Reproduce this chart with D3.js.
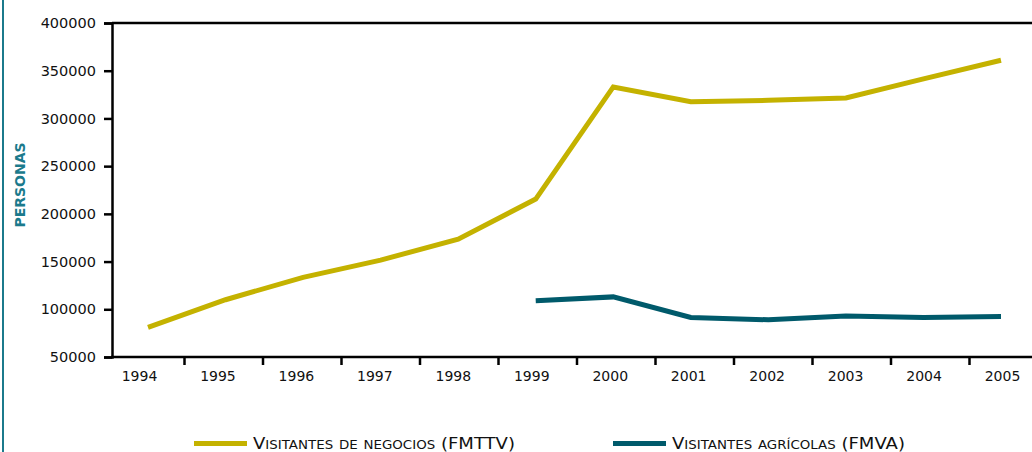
<!DOCTYPE html>
<html>
<head>
<meta charset="utf-8">
<script src="https://cdn.jsdelivr.net/npm/d3@7"></script>
<style>
  html, body { margin: 0; padding: 0; background: #fff; }
  svg { display: block; }
  text { font-family: "DejaVu Sans", sans-serif; }
</style>
</head>
<body>
<svg id="chart" width="1032" height="452"></svg>
<script>
// Visitantes por año
const years = ["1994", "1995", "1996", "1997", "1998", "1999",
               "2000", "2001", "2002", "2003", "2004", "2005"];
const negocios = [81000, 110000, 133500, 151500, 173500, 215500,
                  333000, 317500, 319000, 321500, 341500, 361000];
const agricolas = [null, null, null, null, null, 109000,
                   113000, 91500, 89000, 93000, 91500, 92500];
const yTicks = [50000, 100000, 150000, 200000, 250000, 300000, 350000, 400000];
const seriesNames = ["Visitantes de negocios (FMTTV)", "Visitantes agrícolas (FMVA)"];
const seriesColors = ["#c4b200", "#005a6b"];

const svg = d3.select("#chart");

// left rule
svg.append("line")
  .attr("x1", 3).attr("x2", 3).attr("y1", 0).attr("y2", 452)
  .attr("stroke", "#1b7a8c").attr("stroke-width", 2);

const y = d3.scaleLinear().domain([50000, 400000]).range([357, 23]);
const xLine = d3.scalePoint().domain(years).range([148, 1001]);
const xLabel = d3.scalePoint().domain(years).range([139, 1002]);
const xBand = d3.scaleBand().domain(years).range([106, 1048]);

// y axis
const yAxis = svg.append("g").attr("transform", "translate(112,0)")
  .call(d3.axisLeft(y).tickValues(yTicks).tickFormat(d3.format("d")).tickSize(8).tickPadding(8));
yAxis.select(".domain").attr("stroke", "#000").attr("stroke-width", 2.5);
yAxis.selectAll(".tick line").attr("stroke", "#000").attr("stroke-width", 2.5);
yAxis.selectAll(".tick text").attr("font-size", 14.5).attr("fill", "#111")
  .attr("font-family", "DejaVu Sans, sans-serif");

// top frame line
svg.append("line")
  .attr("x1", 112).attr("x2", 1032).attr("y1", y(400000)).attr("y2", y(400000))
  .attr("stroke", "#000").attr("stroke-width", 2.5);

// x axis baseline
svg.append("line")
  .attr("x1", 111).attr("x2", 1032).attr("y1", y(50000)).attr("y2", y(50000))
  .attr("stroke", "#000").attr("stroke-width", 2.5);

// tick marks between the years
svg.append("g").selectAll("line")
  .data(years.slice(1))
  .join("line")
  .attr("x1", d => xBand(d)).attr("x2", d => xBand(d))
  .attr("y1", y(50000)).attr("y2", y(50000) + 8)
  .attr("stroke", "#000").attr("stroke-width", 2.5);

// year labels
const xAxis = svg.append("g").attr("transform", `translate(0,${y(50000)})`)
  .call(d3.axisBottom(xLabel).tickSize(0).tickPadding(14));
xAxis.select(".domain").remove();
xAxis.selectAll(".tick text").attr("font-size", 14).attr("fill", "#111")
  .attr("font-family", "DejaVu Sans, sans-serif");

// y title
svg.append("text")
  .attr("transform", "translate(25,185) rotate(-90)")
  .attr("text-anchor", "middle")
  .attr("font-size", 14).attr("font-weight", "bold")
  .attr("fill", "#1b7a8c")
  .text("PERSONAS");

// lines
const line = d3.line()
  .defined(d => d.v != null)
  .x(d => xLine(d.year))
  .y(d => y(d.v));

[negocios, agricolas].forEach((vals, i) => {
  svg.append("path")
    .datum(years.map((yr, j) => ({ year: yr, v: vals[j] })))
    .attr("fill", "none")
    .attr("stroke", seriesColors[i])
    .attr("stroke-width", 5)
    .attr("stroke-linejoin", "miter")
    .attr("d", line);
});

// legend, set in small capitals: runs of lowercase letters become smaller capitals
function smallCaps(textSel, str, big, small) {
  const runs = [];
  for (const ch of str) {
    const lower = ch !== ch.toUpperCase();
    const last = runs[runs.length - 1];
    if (last && last.lower === lower) last.s += ch;
    else runs.push({ s: ch, lower });
  }
  textSel.selectAll("tspan").data(runs).join("tspan")
    .attr("font-size", d => d.lower ? small : big)
    .text(d => d.lower ? d.s.toUpperCase() : d.s);
}

const legendX = [194, 613];
const legendW = [262, 233];
seriesNames.forEach((name, i) => {
  const g = svg.append("g").attr("transform", `translate(${legendX[i]},443.5)`);
  g.append("line").attr("x1", 0).attr("x2", 53).attr("y1", 0).attr("y2", 0)
    .attr("stroke", seriesColors[i]).attr("stroke-width", 5);
  const t = g.append("text").attr("x", 59).attr("y", 5.5)
    .attr("fill", "#111")
    .attr("textLength", legendW[i])
    .attr("lengthAdjust", "spacingAndGlyphs");
  smallCaps(t, name, 15.5, 11.5);
});
</script>
</body>
</html>
